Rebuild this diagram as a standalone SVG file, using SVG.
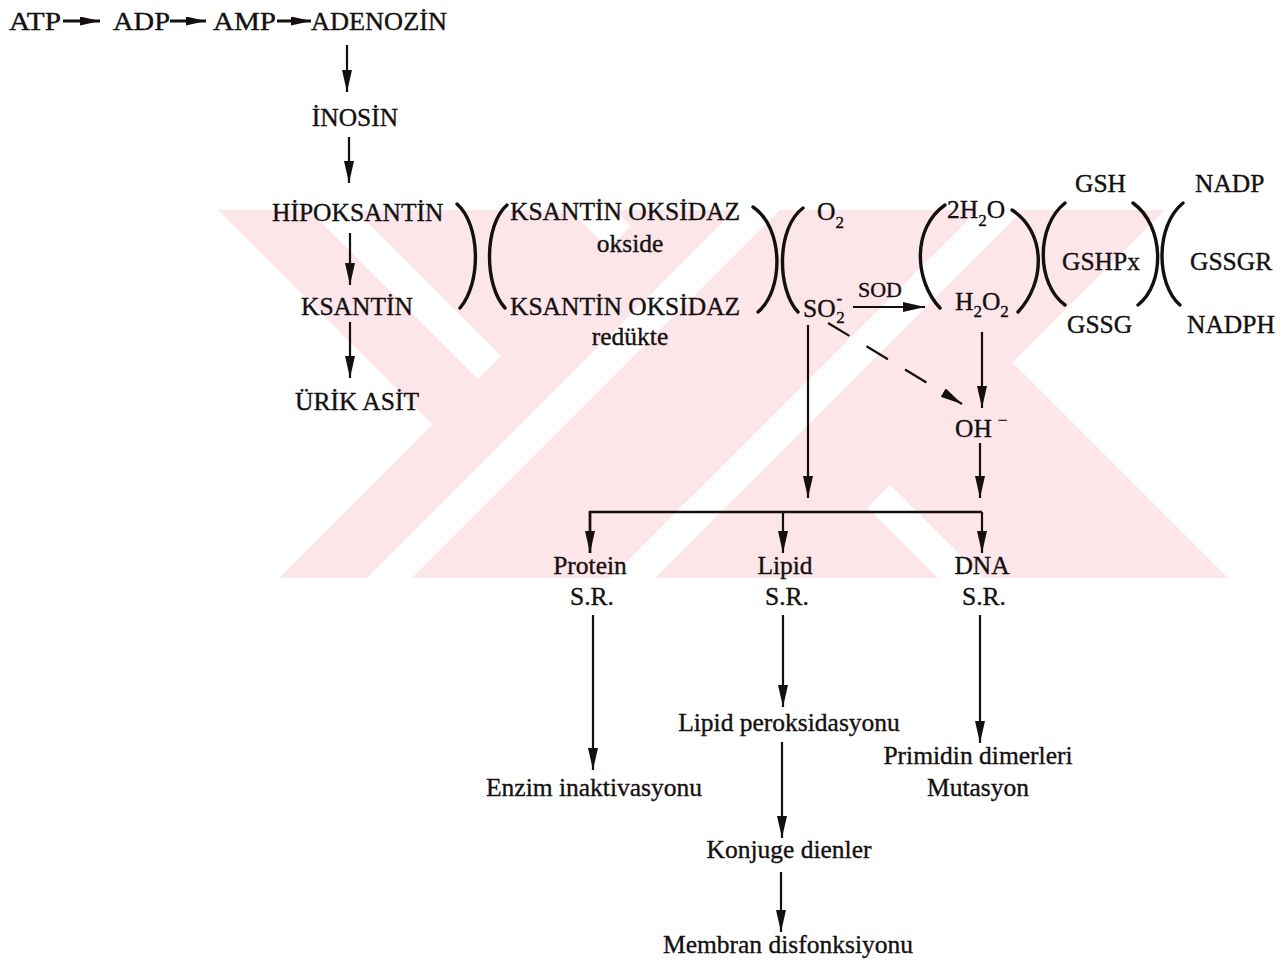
<svg xmlns="http://www.w3.org/2000/svg" width="1285" height="962" viewBox="0 0 1285 962">
<style>
.t{font-family:"Liberation Serif","Times New Roman",serif;font-size:25.5px;fill:#141010;stroke:#141010;stroke-width:0.35}
.s{font-size:17px}
.sod{font-size:22px}
.ln{stroke:#141010;stroke-width:2.2;fill:none;marker-end:url(#ah)}
.tl{stroke:#141010;stroke-width:3;fill:none;marker-end:url(#ah2)}
.br{stroke:#141010;stroke-width:3.4;fill:none;stroke-linecap:round}
.wm{fill:#fce6ea}
.wmw{fill:#ffffff}
</style>
<defs>
<marker id="ah" markerUnits="userSpaceOnUse" viewBox="0 0 22 10" refX="22" refY="5" markerWidth="22" markerHeight="10" orient="auto">
<path d="M0,0 L22,5 L0,10 Z" fill="#141010"/>
</marker>
<marker id="ah2" markerUnits="userSpaceOnUse" viewBox="0 0 20 9" refX="20" refY="4.5" markerWidth="20" markerHeight="9" orient="auto">
<path d="M0,0 L20,4.5 L0,9 Z" fill="#141010"/>
</marker>
</defs>
<rect width="1285" height="962" fill="#ffffff"/>
<g id="watermark">
<polygon class="wm" points="218,210 309,210 677,578 586,578"/>
<polygon class="wm" points="355,210 570,210 938,578 723,578"/>
<polygon class="wm" points="615,210 860,210 1228,578 983,578"/>
<polygon class="wmw" points="647,210 1165,210 797,578 279,578"/>
<polygon class="wm" points="647,210 735,210 367,578 279,578"/>
<polygon class="wm" points="780,210 978,210 610,578 412,578"/>
<polygon class="wm" points="1023,210 1165,210 797,578 655,578"/>
</g>
<g id="connectors">
<line class="tl" x1="63" y1="21" x2="100" y2="21"/>
<line class="tl" x1="170" y1="21" x2="206" y2="21"/>
<line class="tl" x1="277" y1="21" x2="311" y2="21"/>
<line class="ln" x1="347" y1="45" x2="347" y2="92"/>
<line class="ln" x1="349" y1="137" x2="349" y2="183"/>
<line class="ln" x1="350" y1="233" x2="350" y2="285"/>
<line class="ln" x1="350" y1="322" x2="350" y2="378"/>
<line class="ln" x1="853" y1="307" x2="925" y2="307"/>
<line class="ln" x1="808" y1="325" x2="808" y2="498"/>
<line class="ln" x1="982" y1="332" x2="982" y2="408"/>
<line class="ln" x1="828" y1="323" x2="962" y2="404" stroke-width="3.4" stroke-dasharray="25 20"/>
<line class="ln" x1="980" y1="443" x2="980" y2="498"/>
<polyline points="590,553 590,512 982,512" stroke="#141010" stroke-width="2.6" fill="none"/>
<line class="ln" x1="590" y1="512" x2="590" y2="553"/>
<line class="ln" x1="783" y1="512" x2="783" y2="553"/>
<line class="ln" x1="982" y1="512" x2="982" y2="553"/>
<line class="ln" x1="593" y1="615" x2="593" y2="770"/>
<line class="ln" x1="783" y1="615" x2="783" y2="707"/>
<line class="ln" x1="782" y1="742" x2="782" y2="838"/>
<line class="ln" x1="781" y1="872" x2="781" y2="932"/>
<line class="ln" x1="980" y1="615" x2="980" y2="743"/>
<path class="br" d="M457,204 C480,224 482,282 460,308"/>
<path class="br" d="M507,205 C484,225 484,285 505,308"/>
<path class="br" d="M753,207 C784,228 784,290 758,312"/>
<path class="br" d="M803,208 C776,228 777,290 798,312"/>
<path class="br" d="M945,205 C912,228 914,280 940,308"/>
<path class="br" d="M1012,210 C1046,232 1046,282 1018,312"/>
<path class="br" d="M1065,203 C1036,226 1036,284 1065,305"/>
<path class="br" d="M1133,203 C1165,226 1165,284 1138,305"/>
<path class="br" d="M1183,203 C1155,226 1156,284 1180,305"/>
</g>
<g id="n-atp"><text class="t" x="9" y="30" textLength="52" lengthAdjust="spacingAndGlyphs">ATP</text></g>
<g id="n-adp"><text class="t" x="113" y="30" textLength="57" lengthAdjust="spacingAndGlyphs">ADP</text></g>
<g id="n-amp"><text class="t" x="213" y="30" textLength="63" lengthAdjust="spacingAndGlyphs">AMP</text></g>
<g id="n-adenozin"><text class="t" x="311" y="30" textLength="136" lengthAdjust="spacingAndGlyphs">ADENOZİN</text></g>
<g id="n-inosin"><text class="t" x="355" y="126" text-anchor="middle">İNOSİN</text></g>
<g id="n-hipoksantin"><text class="t" x="272" y="221">HİPOKSANTİN</text></g>
<g id="n-ksantin"><text class="t" x="301" y="315">KSANTİN</text></g>
<g id="n-urik"><text class="t" x="357" y="410" text-anchor="middle">ÜRİK ASİT</text></g>
<g id="n-xo-okside"><text class="t" x="510" y="220">KSANTİN OKSİDAZ</text><text class="t" x="630" y="252" text-anchor="middle">okside</text></g>
<g id="n-xo-redukte"><text class="t" x="510" y="315">KSANTİN OKSİDAZ</text><text class="t" x="630" y="345" text-anchor="middle">redükte</text></g>
<g id="n-o2"><text class="t" x="817" y="220">O<tspan class="s" dy="8">2</tspan></text></g>
<g id="n-so2"><text class="t" x="803" y="317">SO<tspan class="s" dx="1" dy="-13">-</tspan><tspan class="s" dx="-6" dy="19">2</tspan></text></g>
<g id="n-sod"><text class="t sod" x="858" y="297">SOD</text></g>
<g id="n-2h2o"><text class="t" x="947" y="218">2H<tspan class="s" dy="8">2</tspan><tspan dy="-8">O</tspan></text></g>
<g id="n-h2o2"><text class="t" x="955" y="310">H<tspan class="s" dy="7">2</tspan><tspan dy="-7">O</tspan><tspan class="s" dy="7">2</tspan></text></g>
<g id="n-gsh"><text class="t" x="1075" y="192">GSH</text></g>
<g id="n-gshpx"><text class="t" x="1062" y="270">GSHPx</text></g>
<g id="n-gssg"><text class="t" x="1067" y="333">GSSG</text></g>
<g id="n-nadp"><text class="t" x="1195" y="192">NADP</text></g>
<g id="n-gssgr"><text class="t" x="1190" y="270">GSSGR</text></g>
<g id="n-nadph"><text class="t" x="1187" y="333">NADPH</text></g>
<g id="n-oh"><text class="t" x="955" y="437">OH<tspan class="s" dx="6" dy="-11">−</tspan></text></g>
<g id="n-protein"><text class="t" x="590" y="574" text-anchor="middle">Protein</text><text class="t" x="592" y="605" text-anchor="middle">S.R.</text></g>
<g id="n-lipid"><text class="t" x="785" y="574" text-anchor="middle">Lipid</text><text class="t" x="787" y="605" text-anchor="middle">S.R.</text></g>
<g id="n-dna"><text class="t" x="982" y="574" text-anchor="middle">DNA</text><text class="t" x="984" y="605" text-anchor="middle">S.R.</text></g>
<g id="n-enzim"><text class="t" x="594" y="796" text-anchor="middle">Enzim inaktivasyonu</text></g>
<g id="n-lipidperok"><text class="t" x="789" y="731" text-anchor="middle">Lipid peroksidasyonu</text></g>
<g id="n-konjuge"><text class="t" x="789" y="858" text-anchor="middle">Konjuge dienler</text></g>
<g id="n-membran"><text class="t" x="788" y="953" text-anchor="middle">Membran disfonksiyonu</text></g>
<g id="n-primidin"><text class="t" x="978" y="764" text-anchor="middle">Primidin dimerleri</text><text class="t" x="978" y="796" text-anchor="middle">Mutasyon</text></g>
</svg>
